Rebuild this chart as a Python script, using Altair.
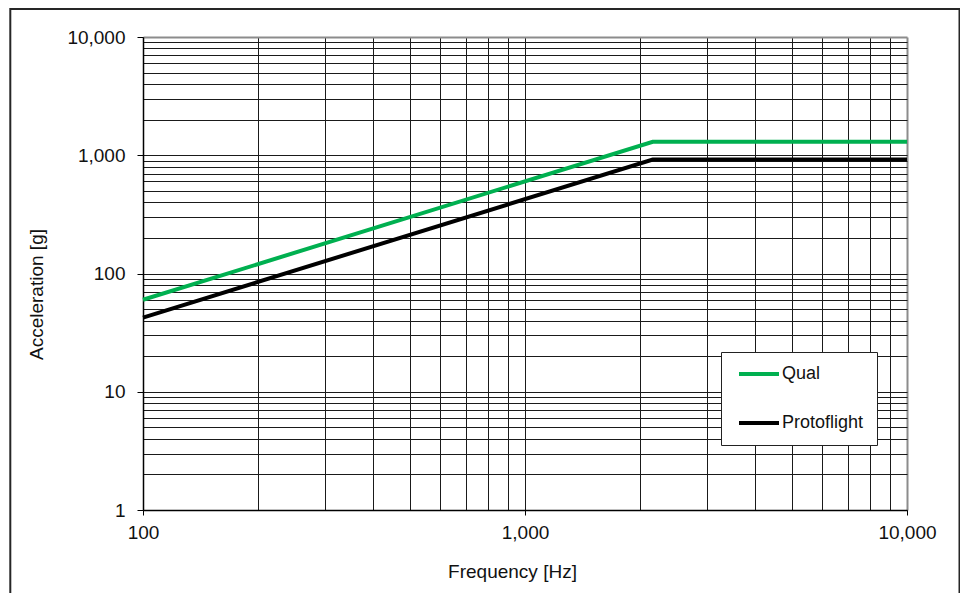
import altair as alt
import pandas as pd

# ---- data ----
freq_hz = [100, 2160, 10000]
qual_g = [60, 1300, 1300]
protoflight_g = [42.4, 919, 919]
series_names = ["Qual", "Protoflight"]
series_colors = ["#00B050", "#000000"]

x_grid = [100, 200, 300, 400, 500, 600, 700, 800, 900,
          1000, 2000, 3000, 4000, 5000, 6000, 7000, 8000, 9000, 10000]
y_grid = [1, 2, 3, 4, 5, 6, 7, 8, 9,
          10, 20, 30, 40, 50, 60, 70, 80, 90,
          100, 200, 300, 400, 500, 600, 700, 800, 900,
          1000, 2000, 3000, 4000, 5000, 6000, 7000, 8000, 9000, 10000]
x_major = [100, 1000, 10000]
y_major = [1, 10, 100, 1000, 10000]

rows = []
for name, vals in zip(series_names, [qual_g, protoflight_g]):
    for f, g in zip(freq_hz, vals):
        rows.append({"Frequency": f, "Acceleration": g, "Series": name})
df = pd.DataFrame(rows)

FONT = "Liberation Sans"
TXT = "#111111"


def major_test(majors):
    return "indexof([" + ",".join(str(v) for v in majors) + "], datum.value) >= 0"


def make_axis(values, majors, edge, title, **kw):
    test = major_test(majors)
    return alt.Axis(
        values=values,
        labelExpr=test + " ? format(datum.value, ',') : ''",
        labelOverlap=False,
        labelFlush=False,
        labelFont=FONT,
        labelFontSize=19,
        labelColor=TXT,
        tickColor="#000000",
        tickWidth=1,
        tickOpacity={"condition": {"test": test, "value": 1}, "value": 0},
        domainColor="#000000",
        domainWidth=1.5,
        grid=True,
        gridColor={"condition": {"test": "datum.value == " + str(edge), "value": "#8c8c8c"},
                   "value": "#1a1a1a"},
        gridWidth={"condition": {"test": "datum.value == " + str(edge), "value": 2},
                   "value": 1},
        gridOpacity=1,
        title=title,
        titleFont=FONT,
        titleFontSize=19,
        titleFontWeight="normal",
        titleColor=TXT,
        **kw,
    )


x_axis = make_axis(x_grid, x_major, 10000, "Frequency  [Hz]",
                   tickSize=5, labelPadding=8,
                   titleX=369, titleY=61, titleBaseline="middle", titleAlign="center")
y_axis = make_axis(y_grid, y_major, 10000, "Acceleration [g]",
                   tickSize=6, labelPadding=12,
                   titleAngle=270, titleX=-107, titleY=257,
                   titleBaseline="middle", titleAlign="center")

lines = alt.Chart(df).mark_line(strokeWidth=4).encode(
    x=alt.X("Frequency:Q", scale=alt.Scale(type="log", domain=[100, 10000], nice=False),
            axis=x_axis),
    y=alt.Y("Acceleration:Q", scale=alt.Scale(type="log", domain=[1, 10000], nice=False),
            axis=y_axis),
    color=alt.Color(
        "Series:N",
        scale=alt.Scale(domain=series_names, range=series_colors),
        sort=series_names,
        legend=alt.Legend(
            title=None,
            orient="none",
            legendX=578,
            legendY=315,
            symbolType="M-0.8,0H7.2",
            symbolSize=100,
            symbolStrokeWidth=4,
            labelFont=FONT,
            labelFontSize=18,
            labelColor=TXT,
            labelOffset=30,
            rowPadding=31,
            padding=13,
            strokeColor="#222222",
            fillColor="white",
        ),
    ),
    order=alt.value(0),
)

frame = alt.Chart(pd.DataFrame({"k": [0]})).mark_rect(
    filled=False, stroke="#262626", strokeWidth=2
).encode(
    x=alt.value(-132.7), x2=alt.value(816.5),
    y=alt.value(-28), y2=alt.value(620),
)

chart = alt.layer(frame, lines).properties(
    width=764,
    height=473,
    autosize=alt.AutoSizeParams(type="none"),
    padding={"left": 135, "top": 29, "right": 53, "bottom": 83},
    background="white",
).configure_view(stroke=None)

chart.save("out.html", embed_options={"renderer": "svg", "actions": False})
